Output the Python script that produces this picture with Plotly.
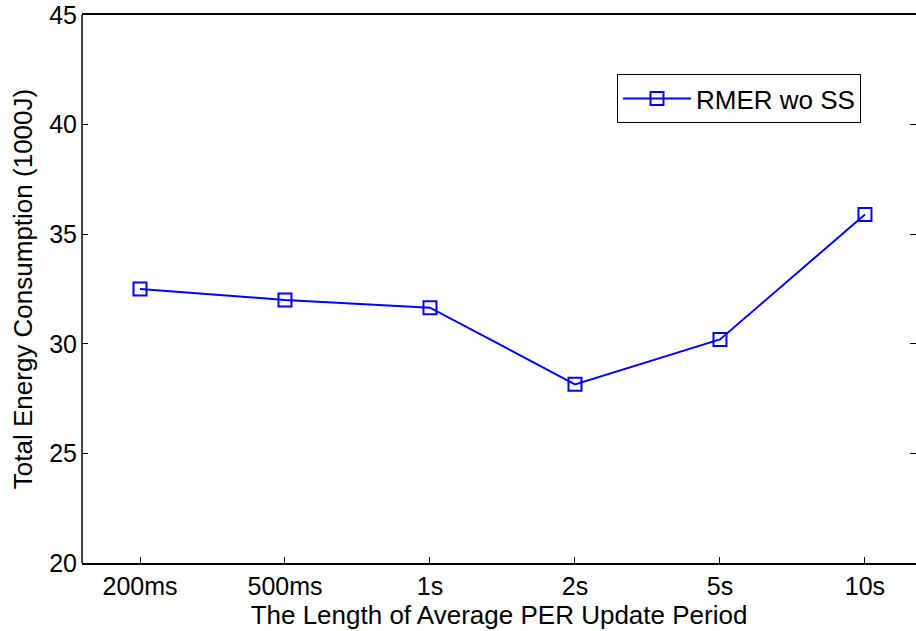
import plotly.graph_objects as go

categories = ["200ms", "500ms", "1s", "2s", "5s", "10s"]
energy = [32.5, 32.0, 31.65, 28.15, 30.2, 35.9]
series_name = "RMER wo SS"
y_ticks = [20, 25, 30, 35, 40, 45]

FONT = "Liberation Sans, Arial, Helvetica, sans-serif"

fig = go.Figure()
fig.add_trace(go.Scatter(
    x=list(range(len(categories))), y=energy, name=series_name,
    mode="lines+markers",
    line=dict(color="#0000ff", width=2),
    marker=dict(symbol="square-open", size=13, color="#0000ff", line=dict(width=2, color="#0000ff")),
))

fig.update_layout(
    width=916, height=631,
    margin=dict(l=82, r=0, t=15, b=68),
    paper_bgcolor="white", plot_bgcolor="white",
    font=dict(family=FONT, size=25, color="black"),
    showlegend=True,
    legend=dict(x=0.6415, y=0.892, xanchor="left", yanchor="top",
                bordercolor="black", borderwidth=1, bgcolor="white",
                itemwidth=68, tracegroupgap=0,
                font=dict(size=26, family=FONT)),
    shapes=[dict(type="line", xref="paper", yref="paper", x0=0, x1=0, y0=0, y1=1,
                 line=dict(color="black", width=1.5))],
)
fig.update_xaxes(
    range=[-0.4, 5.352],
    tickmode="array", tickvals=list(range(len(categories))), ticktext=categories,
    ticks="inside", ticklen=6, tickcolor="black", tickwidth=1,
    showline=True, linecolor="black", linewidth=1.5, mirror=True,
    showgrid=False, zeroline=False,
    tickfont=dict(size=25),
    title=dict(text="The Length of Average PER Update Period", font=dict(size=26), standoff=1),
)
fig.update_yaxes(
    range=[20, 45], tickmode="array", tickvals=y_ticks,
    ticks="inside", ticklen=6, tickcolor="black", tickwidth=1,
    showline=False, mirror="ticks",
    showgrid=False, zeroline=False,
    tickfont=dict(size=25),
    ticklabelstandoff=4,
    title=dict(text="Total Energy Consumption (1000J)", font=dict(size=26), standoff=9),
)

fig.write_html("out.html")
